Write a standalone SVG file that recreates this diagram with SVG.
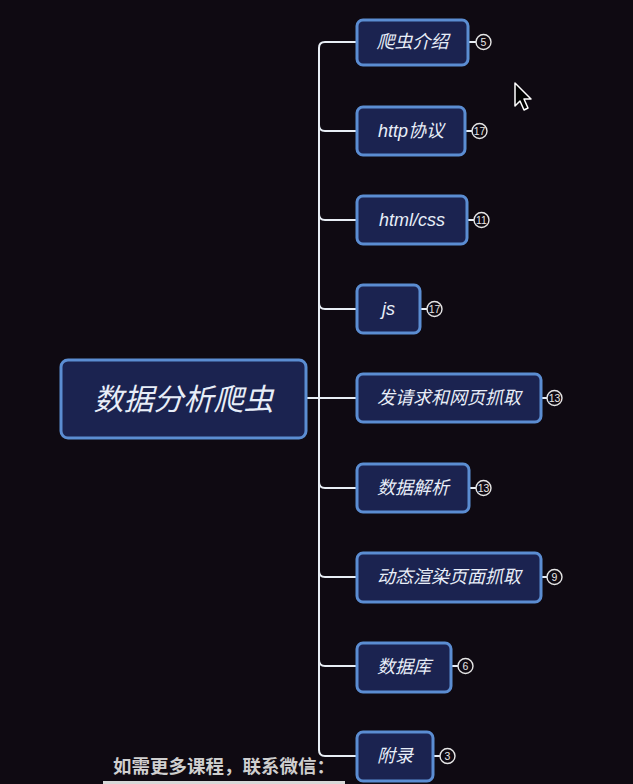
<svg xmlns="http://www.w3.org/2000/svg" width="633" height="784" viewBox="0 0 633 784">
<style>
.node rect{fill:#1b2350;stroke:#5b8dd2;stroke-width:3}
.node text{fill:#e8eef8;font-family:"Liberation Sans","Noto Sans CJK SC",sans-serif;font-style:italic;text-anchor:middle;dominant-baseline:central}
.lbl{font-size:18px}
.root{font-size:30px}
.badge circle{fill:#0f0a12;stroke:#e6e6e6;stroke-width:1.4}
.badge text{fill:#e6e6e6;font-family:"Liberation Sans",sans-serif;font-size:10.5px;text-anchor:middle;dominant-baseline:central}
.conn path{fill:none;stroke:#e8eef5;stroke-width:2}
</style>
<rect width="633" height="784" fill="#0f0a12"/>
<g id="connectors" class="conn">
<path d="M357,42 H325 Q319,42 319,48 V750 Q319,756 325,756 H357"/>
<path d="M319,125 Q319,131 325,131 H357"/>
<path d="M319,214 Q319,220 325,220 H357"/>
<path d="M319,303 Q319,309 325,309 H357"/>
<path d="M307,398 H357"/>
<path d="M319,482 Q319,488 325,488 H357"/>
<path d="M319,571 Q319,577 325,577 H357"/>
<path d="M319,660 Q319,666 325,666 H357"/>
<path d="M468,42 H476 M465,131 H472 M467,220 H474 M420,309 H427 M541,398 H547 M469,488 H476 M541,577 H547 M451,666 H458 M433,756 H440"/>
</g>
<g id="root" class="node">
<rect x="61" y="360" width="245" height="78" rx="7"/>
<text class="root" x="183.5" y="399">数据分析爬虫</text>
</g>
<g id="n1" class="node"><rect x="357" y="20" width="111" height="45" rx="6"/><text class="lbl" x="412.5" y="42">爬虫介绍</text></g>
<g id="n2" class="node"><rect x="357" y="107" width="108" height="48" rx="6"/><text class="lbl" x="411" y="131">http协议</text></g>
<g id="n3" class="node"><rect x="357" y="196" width="110" height="48" rx="6"/><text class="lbl" x="412" y="220">html/css</text></g>
<g id="n4" class="node"><rect x="357" y="285" width="63" height="48" rx="6"/><text class="lbl" x="388.5" y="309">js</text></g>
<g id="n5" class="node"><rect x="357" y="374" width="184" height="48" rx="6"/><text class="lbl" x="449" y="398">发请求和网页抓取</text></g>
<g id="n6" class="node"><rect x="357" y="464" width="112" height="48" rx="6"/><text class="lbl" x="413" y="488">数据解析</text></g>
<g id="n7" class="node"><rect x="357" y="553" width="184" height="49" rx="6"/><text class="lbl" x="449" y="577">动态渲染页面抓取</text></g>
<g id="n8" class="node"><rect x="357" y="643" width="94" height="49" rx="6"/><text class="lbl" x="404" y="667">数据库</text></g>
<g id="n9" class="node"><rect x="357" y="732" width="76" height="49" rx="6"/><text class="lbl" x="395" y="756">附录</text></g>
<g id="badges" class="badge">
<g><circle cx="483.5" cy="42" r="7.5"/><text x="483.5" y="42">5</text></g>
<g><circle cx="479.5" cy="131" r="7.5"/><text x="479.5" y="131">17</text></g>
<g><circle cx="481.5" cy="220" r="7.5"/><text x="481.5" y="220">11</text></g>
<g><circle cx="434.5" cy="309" r="7.5"/><text x="434.5" y="309">17</text></g>
<g><circle cx="554.5" cy="398" r="7.5"/><text x="554.5" y="398">13</text></g>
<g><circle cx="483.5" cy="488" r="7.5"/><text x="483.5" y="488">13</text></g>
<g><circle cx="554.5" cy="577" r="7.5"/><text x="554.5" y="577">9</text></g>
<g><circle cx="465.5" cy="666" r="7.5"/><text x="465.5" y="666">6</text></g>
<g><circle cx="447.5" cy="756" r="7.5"/><text x="447.5" y="756">3</text></g>
</g>
<path d="M515,83 L515,106 L520,101 L524,110 L528,108 L524,99 L531,99 Z" fill="#000" stroke="#fff" stroke-width="1.5" stroke-linejoin="round"/>
<text x="113" y="773" font-family="'Noto Sans CJK SC',sans-serif" font-weight="bold" font-size="18.5" fill="#cfcfcf">如需更多课程，联系微信：</text>
<rect x="103" y="781" width="242" height="3" fill="#d8d8d8"/>
</svg>
